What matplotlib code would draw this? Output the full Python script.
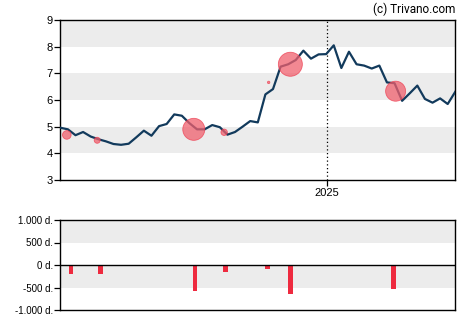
import numpy as np
import pandas as pd
import matplotlib
matplotlib.use('Agg')
import matplotlib.pyplot as plt
import matplotlib.dates as mdates

plt.rcParams['font.family'] = ['Liberation Sans', 'DejaVu Sans']

# weekly closing prices
dates = pd.date_range('2024-04-30', periods=53, freq='7D')
prices = [4.96, 4.90, 4.68, 4.80, 4.63, 4.53, 4.45, 4.35, 4.32, 4.36,
          4.60, 4.85, 4.66, 5.02, 5.10, 5.46, 5.41, 5.13, 4.90, 4.90,
          5.06, 4.98, 4.70, 4.80, 5.00, 5.21, 5.16, 6.21, 6.41, 7.25,
          7.34, 7.50, 7.85, 7.55, 7.71, 7.72, 8.05, 7.20, 7.81, 7.34,
          7.29, 7.18, 7.29, 6.66, 6.63, 5.97, 6.25, 6.54, 6.04, 5.90,
          6.06, 5.85, 6.31]

# insider trades: date, price, marker radius (px), volume (thousands)
trade_dates = pd.to_datetime(['2024-05-06', '2024-06-03', '2024-08-31', '2024-09-28',
                              '2024-11-08', '2024-11-28', '2025-03-05'])
trade_prices = [4.69, 4.49, 4.90, 4.79, 6.66, 7.34, 6.33]
trade_radius = [4.3, 3.0, 11.0, 3.2, 1.2, 12.0, 10.0]
bar_dates = pd.to_datetime(['2024-05-10', '2024-06-06', '2024-09-01', '2024-09-29',
                            '2024-11-07', '2024-11-28', '2025-03-03'])
volumes = [-190, -190, -570, -150, -85, -640, -530]

line_color = '#123a5c'
band_color = '#ececec'
red = '#ee2a3f'

fig = plt.figure(figsize=(4.7, 3.25), dpi=100)
ax = fig.add_axes([60.3 / 470, 1 - 180 / 325, 395 / 470, 160 / 325])
ax2 = fig.add_axes([60.3 / 470, 1 - 310 / 325, 395 / 470, 90 / 325])

x0, x1 = dates[0], dates[-1]

# price chart
for lo in [4, 6, 8]:
    ax.axhspan(lo, lo + 1, color=band_color, lw=0, zorder=0)
ax.plot(dates, prices, color=line_color, lw=1.6, zorder=3)
ax.scatter(trade_dates, trade_prices, s=[(r * 72 / 100) ** 2 * 4 for r in trade_radius],
           color='#f0606e', alpha=0.75, edgecolors='#ee3d50', linewidths=0.6, zorder=4)
ax.axvline(pd.Timestamp('2025-01-01'), color='black', ls=(0, (1, 2)), lw=0.9, zorder=2)
ax.set_xlim(x0, x1)
ax.set_ylim(3, 9)
ax.set_yticks(range(3, 10))
ax.set_xticks([pd.Timestamp('2025-01-01')])
ax.xaxis.set_major_formatter(mdates.DateFormatter('%Y'))
ax.tick_params(labelsize=8, length=4, width=0.9, pad=1.5)
for s in ax.spines.values():
    s.set_linewidth(1.0)

# volume chart
ax2.axhspan(500, 1000, color=band_color, lw=0, zorder=0)
ax2.axhspan(-500, 0, color=band_color, lw=0, zorder=0)
ax2.bar(bar_dates, volumes, width=4.3, color=red, zorder=3)
ax2.axhline(0, color='black', lw=1.0, zorder=4)
ax2.set_xlim(x0, x1)
ax2.set_ylim(-1000, 1000)
ax2.set_yticks([1000, 500, 0, -500, -1000])
ax2.set_yticklabels(['1.000 d.', '500 d.', '0 d.', '-500 d.', '-1.000 d.'])
ax2.set_xticks([])
ax2.tick_params(labelsize=7, length=4, width=0.9, pad=1.5)
for s in ax2.spines.values():
    s.set_linewidth(1.0)

fig.text(455 / 470, 1 - 13 / 325, '(c) Trivano.com', ha='right', va='baseline',
         fontsize=8.5, family=['Roboto', 'DejaVu Sans'])

fig.savefig('out.png', dpi=100)
